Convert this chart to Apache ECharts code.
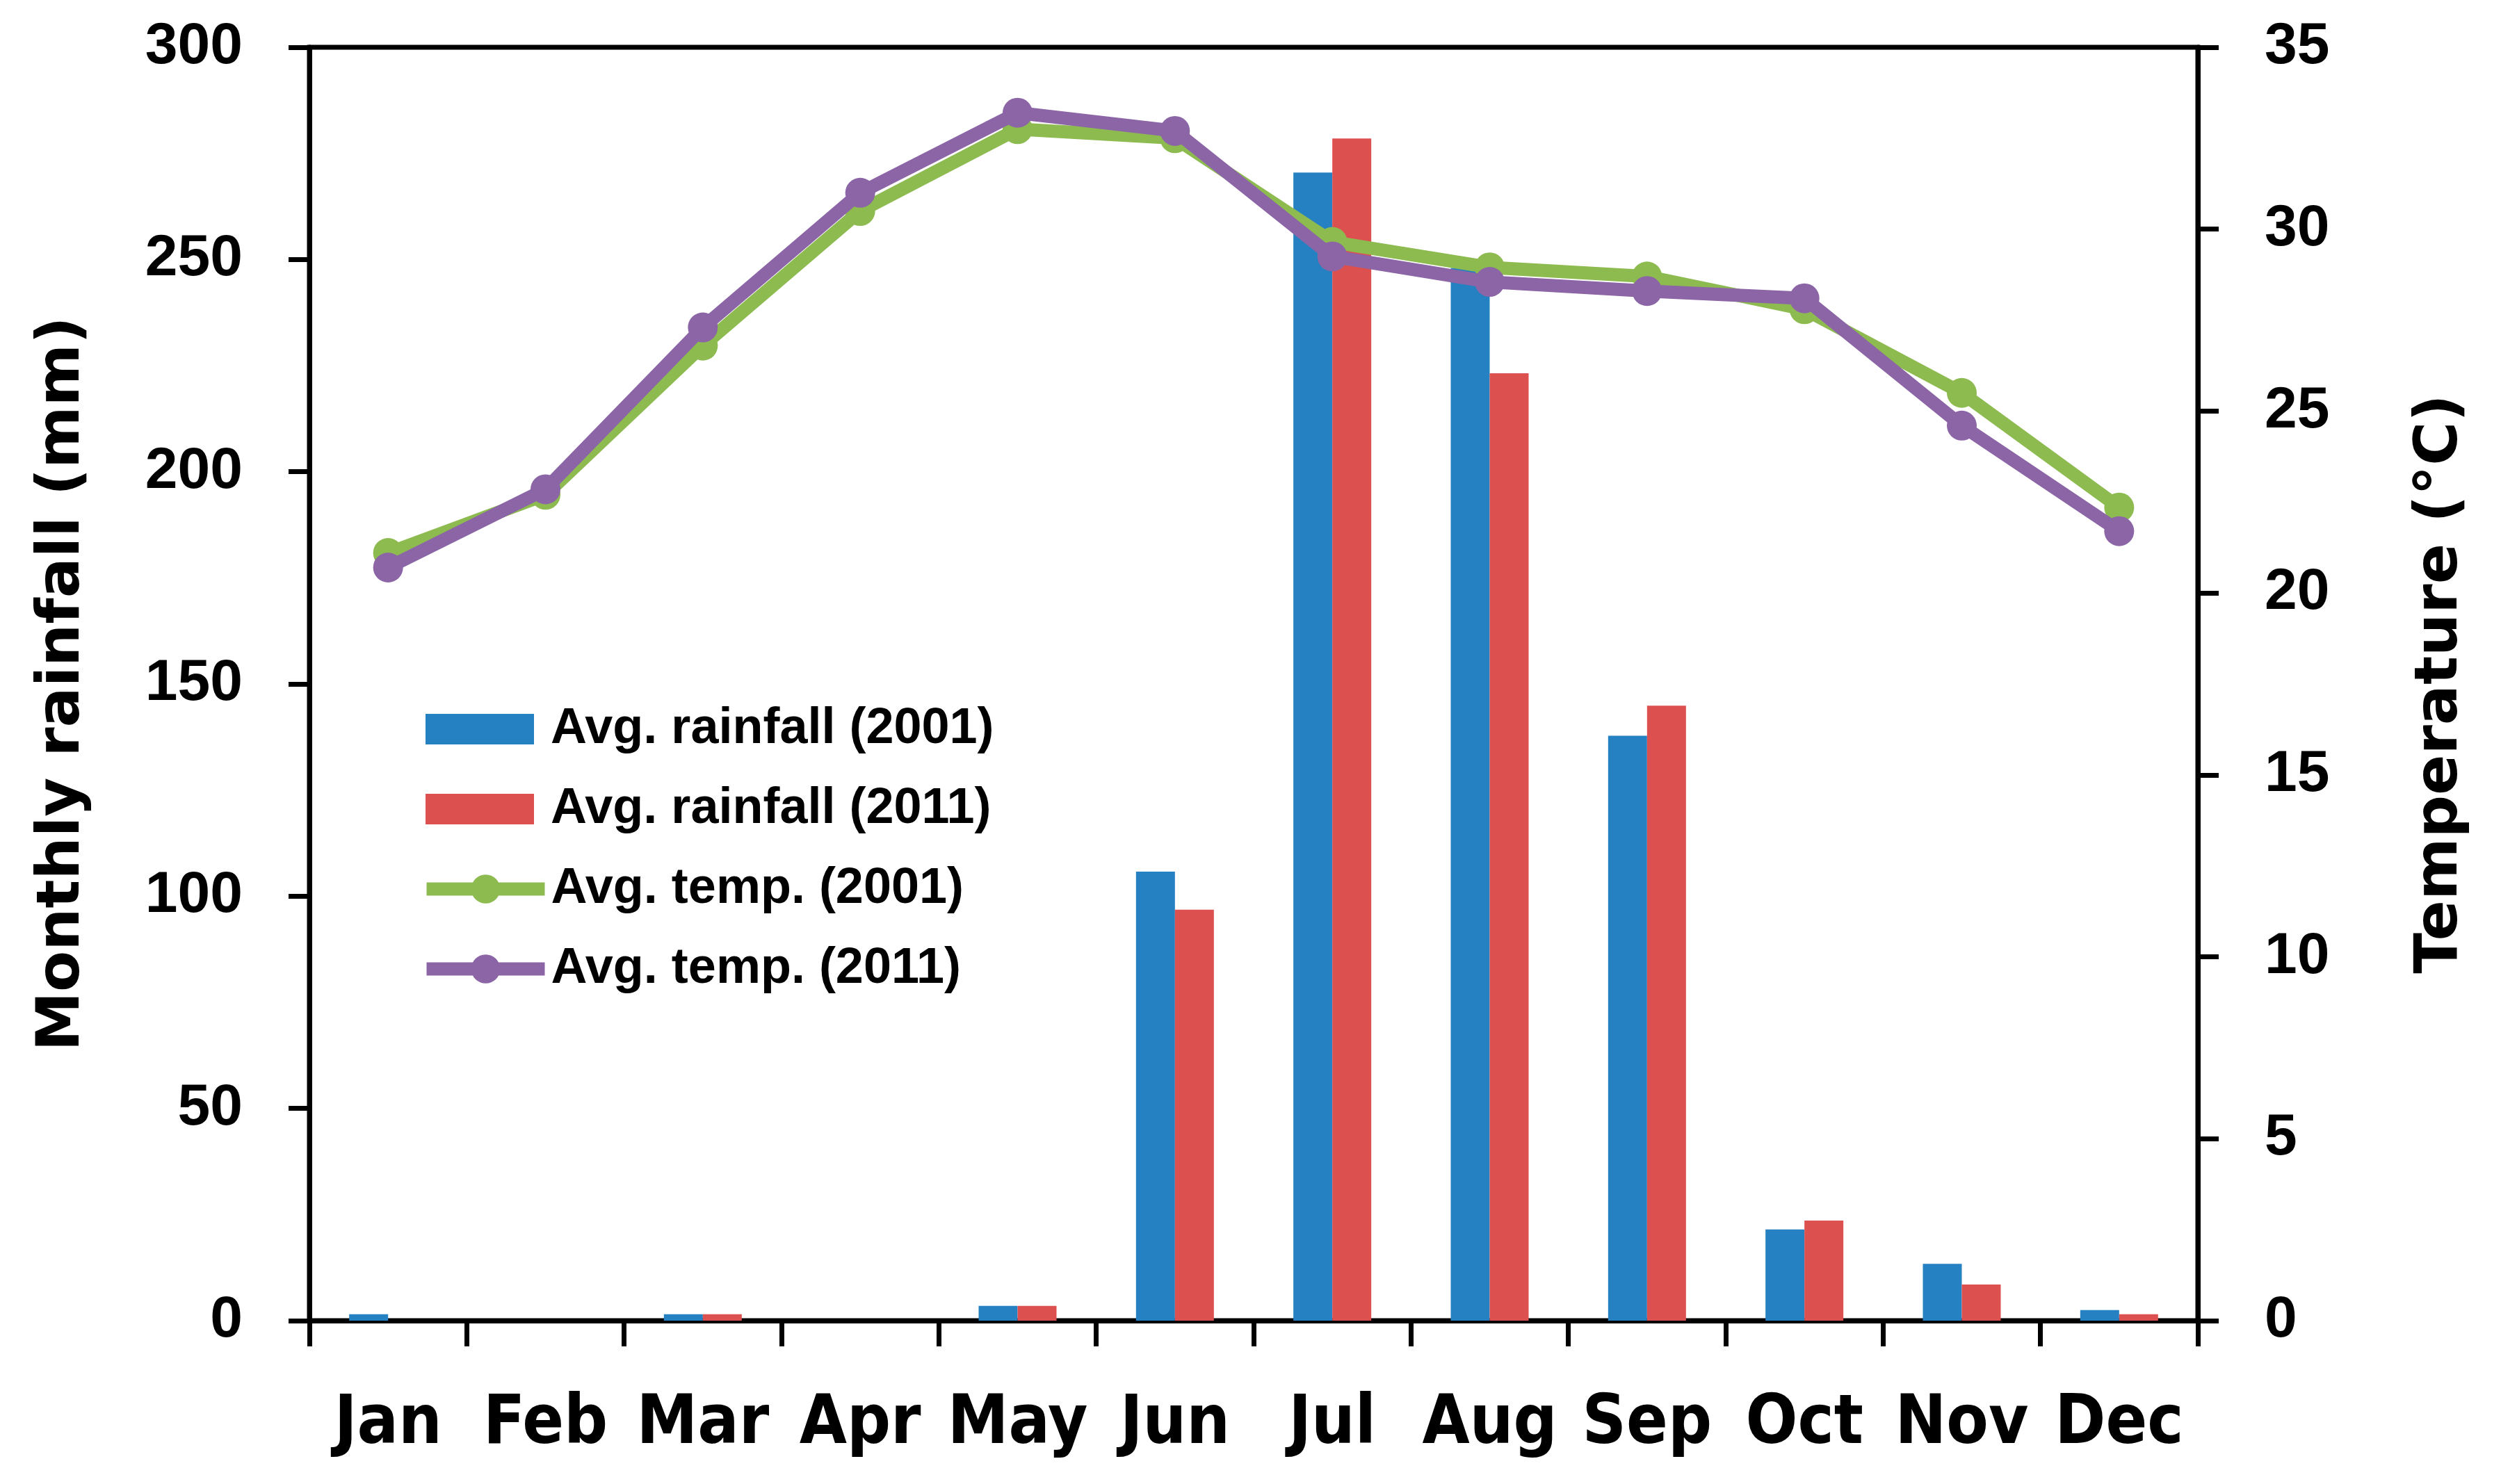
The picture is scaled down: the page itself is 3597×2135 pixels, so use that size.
<!DOCTYPE html>
<html>
<head>
<meta charset="utf-8">
<script src="https://cdn.jsdelivr.net/npm/echarts@6/dist/echarts.min.js"></script>
<style>
html,body{margin:0;padding:0;background:#fff;}
#chart{width:3597px;height:2135px;}
</style>
</head>
<body>
<div id="chart"></div>
<script>
const months = ['Jan','Feb','Mar','Apr','May','Jun','Jul','Aug','Sep','Oct','Nov','Dec'];
const rainfall2001 = [1.5, 0, 1.5, 0, 3.5, 105.8, 270.5, 248, 137.8, 21.5, 13.4, 2.5];
const rainfall2011 = [0, 0, 1.5, 0, 3.5, 96.8, 278.5, 223.2, 144.9, 23.6, 8.5, 1.5];
const temp2001 = [21.1, 22.7, 26.8, 30.5, 32.75, 32.5, 29.65, 28.95, 28.7, 27.8, 25.5, 22.35];
const temp2011 = [20.7, 22.85, 27.3, 31.0, 33.2, 32.7, 29.25, 28.55, 28.3, 28.1, 24.6, 21.7];
const seriesNames = ['Avg. rainfall (2001)', 'Avg. rainfall (2011)', 'Avg. temp. (2001)', 'Avg. temp. (2011)'];
const leftTicks = {min: 0, max: 300, interval: 50};
const rightTicks = {min: 0, max: 35, interval: 5};

const colors = ['#2581C1', '#DD5050', '#8DBB50', '#8B65A6'];
const numFont = '"Liberation Sans", Arial, sans-serif';
const monthFont = '"Liberation Sans Narrow", "Arial Narrow", "DejaVu Sans Condensed", sans-serif';
const titleFont = '"DejaVu Sans", Verdana, sans-serif';

const chart = echarts.init(document.getElementById('chart'), null, {renderer: 'canvas'});

function yAxisStyle(extra) {
  return Object.assign({
    type: 'value',
    splitLine: {show: false},
    axisLine: {show: true, lineStyle: {color: '#000', width: 7}},
    axisTick: {show: true, length: 30, lineStyle: {color: '#000', width: 7}},
    axisLabel: {margin: 96, color: '#000', fontSize: 84, fontWeight: 'bold', fontFamily: numFont},
    nameLocation: 'middle',
    nameTextStyle: {color: '#000', fontSize: 86, fontWeight: 'bold', fontFamily: titleFont}
  }, extra);
}

const legendText = {color: '#000', fontSize: 72, fontWeight: 'bold', fontFamily: numFont, padding: [0, 0, 0, 19]};

chart.setOption({
  animation: false,
  backgroundColor: '#fff',
  grid: {left: 445, right: 436, top: 68, bottom: 235, show: true, borderColor: '#000', borderWidth: 7, backgroundColor: 'transparent'},
  legend: [
    {
      orient: 'vertical',
      left: 612,
      top: 1013,
      padding: 0,
      itemWidth: 156,
      itemHeight: 44,
      itemGap: 43,
      textStyle: legendText,
      data: [
        {name: seriesNames[0], icon: 'rect'},
        {name: seriesNames[1], icon: 'rect'}
      ]
    },
    {
      orient: 'vertical',
      left: 604,
      top: 1243,
      padding: 0,
      itemWidth: 170,
      itemHeight: 52,
      itemGap: 43,
      textStyle: Object.assign({}, legendText, {padding: [0, 0, 0, 4]}),
      lineStyle: {width: 19},
      data: [
        {name: seriesNames[2]},
        {name: seriesNames[3]}
      ]
    }
  ],
  xAxis: {
    type: 'category',
    data: months,
    axisLine: {show: true, lineStyle: {color: '#000', width: 7}},
    axisTick: {show: true, length: 37, lineStyle: {color: '#000', width: 7}},
    axisLabel: {margin: 102, color: '#000', fontSize: 98, fontWeight: 'bold', fontFamily: monthFont, interval: 0}
  },
  yAxis: [
    yAxisStyle(Object.assign({position: 'left', name: 'Monthly rainfall (mm)', nameGap: 311}, leftTicks)),
    yAxisStyle(Object.assign({position: 'right', name: 'Temperature (°C)', nameGap: 307}, rightTicks))
  ],
  series: [
    {name: seriesNames[0], type: 'bar', yAxisIndex: 0, data: rainfall2001, barWidth: 56, barGap: '0%', itemStyle: {color: colors[0]}},
    {name: seriesNames[1], type: 'bar', yAxisIndex: 0, data: rainfall2011, barWidth: 56, barGap: '0%', itemStyle: {color: colors[1]}},
    {name: seriesNames[2], type: 'line', yAxisIndex: 1, data: temp2001, symbol: 'circle', symbolSize: 43,
     lineStyle: {color: colors[2], width: 19}, itemStyle: {color: colors[2]}, z: 3},
    {name: seriesNames[3], type: 'line', yAxisIndex: 1, data: temp2011, symbol: 'circle', symbolSize: 43,
     lineStyle: {color: colors[3], width: 19}, itemStyle: {color: colors[3]}, z: 4}
  ]
});
</script>
</body>
</html>
